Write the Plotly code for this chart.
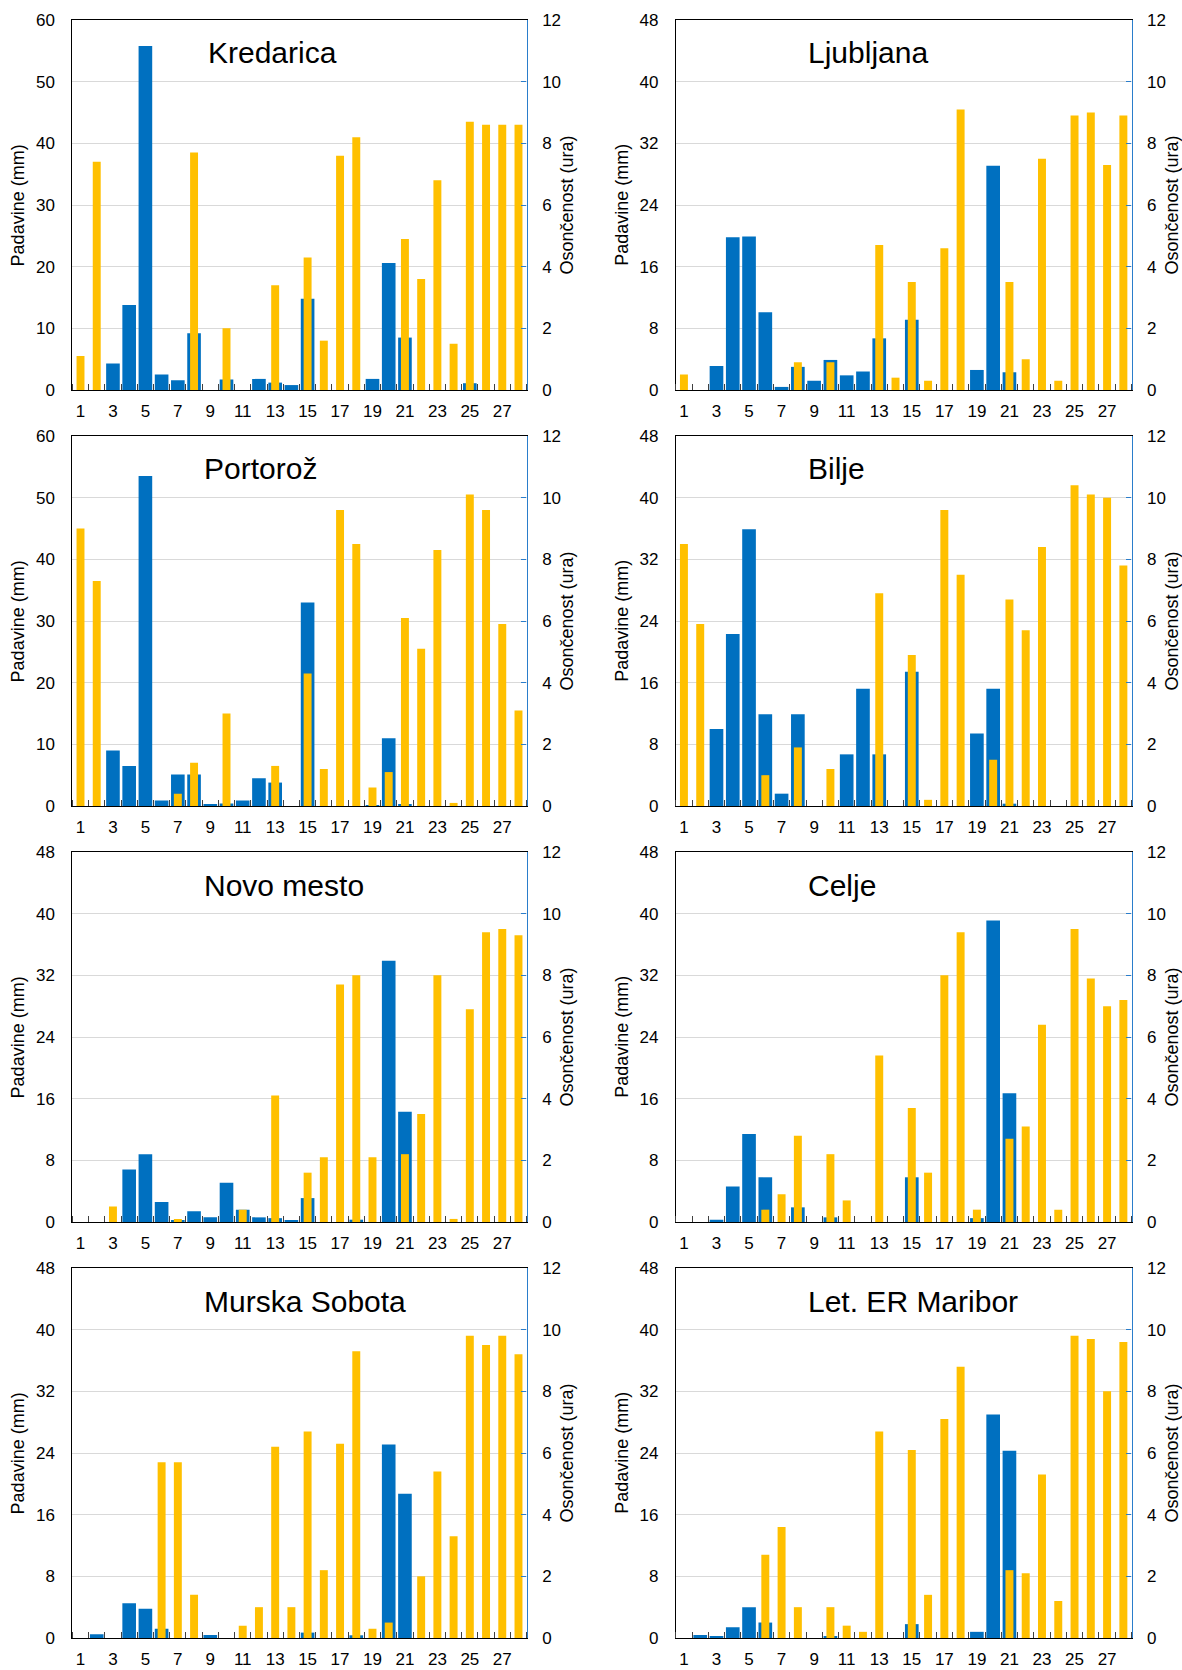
import plotly.graph_objects as go

days = list(range(1, 29))
x_tick_vals = list(range(1, 28, 2))
x_tick_text = [str(v) for v in x_tick_vals]

stations = ["Kredarica", "Ljubljana", "Portorož", "Bilje",
            "Novo mesto", "Celje", "Murska Sobota", "Let. ER Maribor"]
rain_axis_max = [60, 48, 60, 48, 48, 48, 48, 48]
rain_axis_step = [10, 8, 10, 8, 8, 8, 8, 8]
sun_axis_max = 12
sun_axis_step = 2

kredarica_rain = [0, 0, 4.3, 13.8, 55.8, 2.5, 1.6, 9.2, 0, 1.7, 0, 1.8, 1.2, 0.8,
                  14.8, 0, 0, 0, 1.8, 20.6, 8.5, 0, 0, 0, 1.1, 0, 0, 0]
kredarica_sun = [1.1, 7.4, 0, 0, 0, 0, 0, 7.7, 0, 2.0, 0, 0, 3.4, 0,
                 4.3, 1.6, 7.6, 8.2, 0, 0, 4.9, 3.6, 6.8, 1.5, 8.7, 8.6, 8.6, 8.6]

ljubljana_rain = [0, 0, 3.1, 19.8, 19.9, 10.1, 0.4, 3.0, 1.2, 3.9, 1.9, 2.4, 6.7, 0,
                  9.1, 0, 0, 0, 2.6, 29.1, 2.3, 0, 0, 0, 0, 0, 0, 0]
ljubljana_sun = [0.5, 0, 0, 0, 0, 0, 0, 0.9, 0, 0.9, 0, 0, 4.7, 0.4,
                 3.5, 0.3, 4.6, 9.1, 0, 0, 3.5, 1.0, 7.5, 0.3, 8.9, 9.0, 7.3, 8.9]

portoroz_rain = [0, 0, 9.0, 6.5, 53.5, 0.9, 5.1, 5.1, 0.2, 0.4, 0.9, 4.5, 3.8, 0,
                 33.0, 0, 0, 0, 0.1, 11.0, 0.3, 0, 0, 0, 0, 0, 0, 0]
portoroz_sun = [9.0, 7.3, 0, 0, 0, 0, 0.4, 1.4, 0, 3.0, 0, 0, 1.3, 0,
                4.3, 1.2, 9.6, 8.5, 0.6, 1.1, 6.1, 5.1, 8.3, 0.1, 10.1, 9.6, 5.9, 3.1]

bilje_rain = [0, 0, 10.0, 22.3, 35.9, 11.9, 1.6, 11.9, 0, 0, 6.7, 15.2, 6.7, 0,
              17.4, 0, 0, 0, 9.4, 15.2, 0.3, 0, 0, 0, 0, 0, 0, 0]
bilje_sun = [8.5, 5.9, 0, 0, 0, 1.0, 0, 1.9, 0, 1.2, 0, 0, 6.9, 0,
             4.9, 0.2, 9.6, 7.5, 0, 1.5, 6.7, 5.7, 8.4, 0, 10.4, 10.1, 10.0, 7.8]

novo_mesto_rain = [0, 0, 0, 6.8, 8.8, 2.6, 0.2, 1.4, 0.6, 5.1, 1.6, 0.6, 0.5, 0.2,
                   3.1, 0, 0, 0.3, 0, 33.9, 14.3, 0, 0, 0, 0, 0, 0, 0]
novo_mesto_sun = [0, 0, 0.5, 0, 0, 0, 0.1, 0, 0, 0, 0.4, 0, 4.1, 0,
                  1.6, 2.1, 7.7, 8.0, 2.1, 0, 2.2, 3.5, 8.0, 0.1, 6.9, 9.4, 9.5, 9.3]

celje_rain = [0, 0, 0.3, 4.6, 11.4, 5.8, 0, 1.9, 0, 0.6, 0, 0, 0, 0,
              5.8, 0, 0, 0, 0.5, 39.1, 16.7, 0, 0, 0, 0, 0, 0, 0]
celje_sun = [0, 0, 0, 0, 0, 0.4, 0.9, 2.8, 0, 2.2, 0.7, 0, 5.4, 0,
             3.7, 1.6, 8.0, 9.4, 0.4, 0, 2.7, 3.1, 6.4, 0.4, 9.5, 7.9, 7.0, 7.2]

murska_sobota_rain = [0, 0.5, 0, 4.5, 3.8, 1.2, 0, 0, 0.4, 0, 0, 0, 0, 0,
                      0.7, 0, 0, 0.35, 0, 25.1, 18.7, 0, 0, 0, 0, 0, 0, 0]
murska_sobota_sun = [0, 0, 0, 0, 0, 5.7, 5.7, 1.4, 0, 0, 0.4, 1.0, 6.2, 1.0,
                     6.7, 2.2, 6.3, 9.3, 0.3, 0.5, 0, 2.0, 5.4, 3.3, 9.8, 9.5, 9.8, 9.2]

maribor_rain = [0, 0.4, 0.2, 1.4, 4.0, 2.0, 0, 0, 0, 0.2, 0, 0, 0, 0,
                1.8, 0, 0, 0, 0.8, 29.0, 24.3, 0, 0, 0, 0, 0, 0, 0]
maribor_sun = [0, 0, 0, 0, 0, 2.7, 3.6, 1.0, 0, 1.0, 0.4, 0.2, 6.7, 0,
               6.1, 1.4, 7.1, 8.8, 0, 0, 2.2, 2.1, 5.3, 1.2, 9.8, 9.7, 8.0, 9.6]

rain_series = [kredarica_rain, ljubljana_rain, portoroz_rain, bilje_rain,
               novo_mesto_rain, celje_rain, murska_sobota_rain, maribor_rain]
sun_series = [kredarica_sun, ljubljana_sun, portoroz_sun, bilje_sun,
              novo_mesto_sun, celje_sun, murska_sobota_sun, maribor_sun]

rain_title = "Padavine (mm)"
sun_title = "Osončenost (ura)"

# ---- layout geometry (pixels) ----
W, H = 1182, 1670
col_px = [(72.4, 526.6), (675.8, 1131.5)]
row_px = [(20, 390), (436, 806), (852, 1222), (1268, 1638)]
title_offset_px = [134, 130, 130, 130, 130, 130, 130, 130]

FONT = "Liberation Sans, Arial, sans-serif"
BLUE = "#0070C0"
YELLOW = "#FFC000"
AXIS_BLUE = "#2A7DCB"
GRID = "#D9D9D9"

fig = go.Figure()
layout = dict(
    width=W, height=H, margin=dict(l=0, r=0, t=0, b=0, autoexpand=False),
    paper_bgcolor="white", plot_bgcolor="white",
    barmode="overlay", showlegend=False,
    font=dict(family=FONT, size=17, color="black"),
)
annotations = []

for i, name in enumerate(stations):
    r, c = divmod(i, 2)
    x0, x1 = col_px[c]
    top, bot = row_px[r]
    xd = [x0 / W, x1 / W]
    yd = [1 - bot / H, 1 - top / H]
    xa = f"x{i + 1}"
    ya = f"y{2 * i + 1}"
    ya2 = f"y{2 * i + 2}"
    xkey = "xaxis" if i == 0 else f"xaxis{i + 1}"
    ykey = "yaxis" if i == 0 else f"yaxis{2 * i + 1}"
    ykey2 = f"yaxis{2 * i + 2}"

    fig.add_trace(go.Bar(x=days, y=rain_series[i], xaxis=xa, yaxis=ya,
                         marker=dict(color=BLUE, line=dict(width=0)),
                         width=0.84, name=rain_title))
    fig.add_trace(go.Bar(x=days, y=sun_series[i], xaxis=xa, yaxis=ya2,
                         marker=dict(color=YELLOW, line=dict(width=0)),
                         width=0.49, name=sun_title))

    layout[xkey] = dict(
        domain=xd, anchor=ya, range=[0.5, 28.5], automargin=False,
        tickmode="array", tickvals=x_tick_vals, ticktext=x_tick_text,
        ticks="", showgrid=False, zeroline=False,
        showline=True, linecolor="black", linewidth=1, mirror=True,
        ticklabelstandoff=6,
        tickfont=dict(size=17, color="black"),
        minor=dict(tickmode="linear", tick0=0.5, dtick=1, ticks="inside",
                   ticklen=6, tickcolor="#404040", tickwidth=1, showgrid=False),
    )
    layout[ykey] = dict(
        domain=yd, anchor=xa, range=[0, rain_axis_max[i]], automargin=False,
        dtick=rain_axis_step[i], tick0=0,
        showgrid=True, gridcolor=GRID, gridwidth=1, zeroline=False,
        showline=True, linecolor="black", linewidth=1, ticks="",
        ticklabelstandoff=13, tickfont=dict(size=17, color="black"),
    )
    layout[ykey2] = dict(
        overlaying=ya, side="right", anchor=xa, range=[0, sun_axis_max],
        automargin=False,
        dtick=sun_axis_step, tick0=0, showgrid=False, zeroline=False,
        showline=True, linecolor=AXIS_BLUE, linewidth=1.3,
        ticks="inside", ticklen=5, tickcolor=AXIS_BLUE, tickwidth=1,
        ticklabelstandoff=11, tickfont=dict(size=17, color="black"),
    )

    ymid = 1 - (top + bot) / 2 / H
    annotations.append(dict(
        text=name, xref="paper", yref="paper",
        x=(x0 + title_offset_px[i]) / W, y=1 - (top + 33) / H,
        xanchor="left", yanchor="middle", showarrow=False,
        font=dict(size=30, color="black", family=FONT)))
    annotations.append(dict(
        text=rain_title, xref="paper", yref="paper",
        x=(x0 - 54) / W, y=ymid, xanchor="center", yanchor="middle",
        textangle=-90, showarrow=False,
        font=dict(size=18, color="black", family=FONT)))
    annotations.append(dict(
        text=sun_title, xref="paper", yref="paper",
        x=(x1 + 40) / W, y=ymid, xanchor="center", yanchor="middle",
        textangle=-90, showarrow=False,
        font=dict(size=18, color="black", family=FONT)))

layout["annotations"] = annotations
fig.update_layout(**layout)
fig.write_html("out.html")
